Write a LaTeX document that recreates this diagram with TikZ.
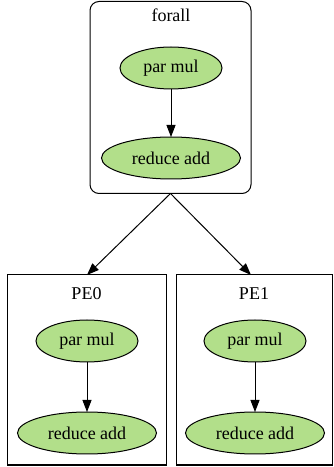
\documentclass[tikz,border=0pt]{standalone}
\usepackage{fontspec}
\setmainfont{Liberation Serif}
\usetikzlibrary{shapes.geometric,arrows.meta}
\definecolor{opgreen}{HTML}{B2DF8A}
\begin{document}
\begin{tikzpicture}[
  x=1pt, y=1pt,
  font=\fontsize{18}{21}\selectfont,
  arr/.style={-{Triangle[length=12pt,width=9pt]}, black, line width=1pt},
  op/.style={ellipse, draw=black, fill=opgreen, line width=1pt,
             minimum height=42pt, inner sep=0pt, outer sep=0pt},
  grpbox/.style={draw=black, line width=1pt, inner sep=0pt, outer sep=0pt},
  ttl/.style={inner sep=0pt},
]
\useasboundingbox (0,0) rectangle (333,467);

%% ── forall cluster ───────────────────────────────────────────────
\node[grpbox, rounded corners=9pt, minimum width=161pt, minimum height=192pt]
  (FA) at (170.5, 369.5) {};
\node[ttl] (FAt) at (171, 452) {forall};
\node[op, minimum width=102pt] (FAmul) at (171, 399) {par mul};
\node[op, minimum width=139pt] (FAred) at (171, 309) {reduce add};
\draw[arr] (FAmul) -- (FAred);

%% ── PE0 cluster ──────────────────────────────────────────────────
\node[grpbox, minimum width=159pt, minimum height=190pt]
  (P0) at (86.5, 97) {};
\node[ttl] (P0t) at (86.5, 173) {PE0};
\node[op, minimum width=102pt] (P0mul) at (87, 126) {par mul};
\node[op, minimum width=139pt] (P0red) at (87, 34) {reduce add};
\draw[arr] (P0mul) -- (P0red);

%% ── PE1 cluster ──────────────────────────────────────────────────
\node[grpbox, minimum width=156pt, minimum height=190pt]
  (P1) at (254, 97) {};
\node[ttl] (P1t) at (254, 173) {PE1};
\node[op, minimum width=102pt] (P1mul) at (255, 126) {par mul};
\node[op, minimum width=139pt] (P1red) at (255, 34) {reduce add};
\draw[arr] (P1mul) -- (P1red);

%% forall -> PEs
\draw[arr] (FA.south) -- ([xshift=0.5pt]P0.north);
\draw[arr] (FA.south) -- ([xshift=-3pt]P1.north);

\end{tikzpicture}
\end{document}
